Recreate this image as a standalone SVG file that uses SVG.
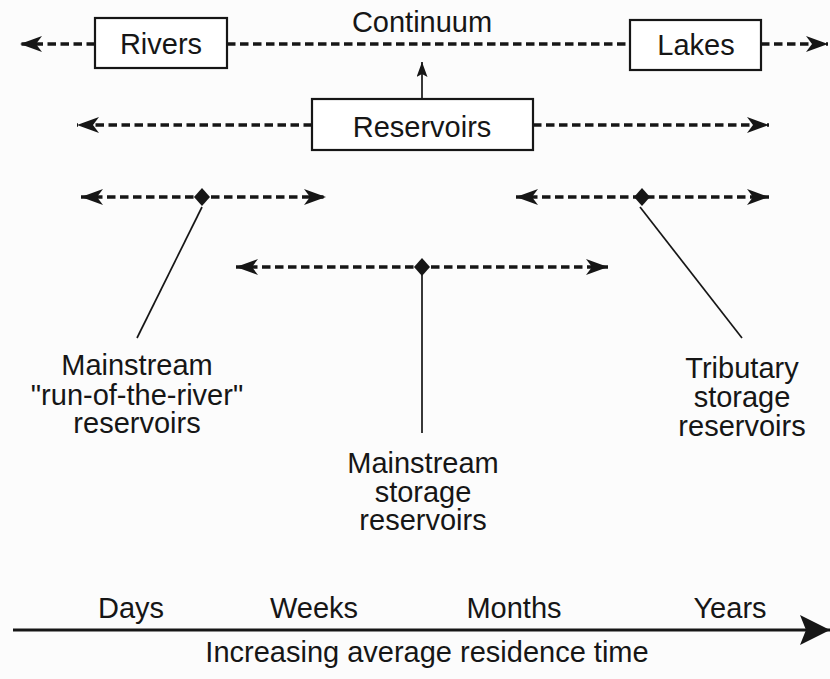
<svg xmlns="http://www.w3.org/2000/svg" xmlns:xlink="http://www.w3.org/1999/xlink" width="830" height="679" viewBox="0 0 830 679">
  <style>
    .txt { font-family: "Liberation Sans", Arial, Helvetica, sans-serif; font-size: 29px; fill: #161616; text-anchor: middle; }
    .box { fill: #ffffff; stroke: #161616; stroke-width: 2.2; }
    .dash { fill: none; stroke: #161616; stroke-width: 3.4; stroke-dasharray: 8.5 4.5; }
    .solid { fill: none; stroke: #161616; stroke-width: 1.7; }
    .axis { fill: none; stroke: #161616; stroke-width: 3.2; }
  </style>
  <defs>
    <marker id="arr" markerUnits="userSpaceOnUse" viewBox="0 0 22 16" markerWidth="22" markerHeight="16" refX="22" refY="8" orient="auto-start-reverse">
      <path d="M0,0 L22,8 L0,16 L6,8 z" fill="#161616"/>
    </marker>
    <marker id="arrSmall" markerUnits="userSpaceOnUse" viewBox="0 0 15 11" markerWidth="15" markerHeight="11" refX="15" refY="5.5" orient="auto">
      <path d="M0,0 L15,5.5 L0,11 L3,5.5 z" fill="#161616"/>
    </marker>
    <marker id="arrBig" markerUnits="userSpaceOnUse" viewBox="0 0 30 30" markerWidth="30" markerHeight="30" refX="30" refY="15" orient="auto">
      <path d="M0,0 L30,15 L0,30 L6,15 z" fill="#161616"/>
    </marker>
    <path id="dia" d="M0,-9 L8,0 L0,9 L-8,0 z" fill="#161616"/>
  </defs>
  <rect x="0" y="0" width="830" height="679" fill="#fcfcfc"/>

  <g id="connectors">
    <line class="dash" x1="95" y1="44" x2="20" y2="44" marker-end="url(#arr)"/>
    <line class="dash" x1="227" y1="44" x2="630" y2="44"/>
    <line class="dash" x1="761" y1="44" x2="828" y2="44" marker-end="url(#arr)"/>
    <line class="solid" x1="422" y1="99" x2="422" y2="62" marker-end="url(#arrSmall)"/>
    <line class="dash" x1="312" y1="125" x2="77" y2="125" marker-end="url(#arr)"/>
    <line class="dash" x1="533" y1="125" x2="769" y2="125" marker-end="url(#arr)"/>
    <line class="dash" x1="81" y1="197" x2="326" y2="197" marker-start="url(#arr)" marker-end="url(#arr)"/>
    <use xlink:href="#dia" x="202" y="197"/>
    <line class="solid" x1="202" y1="207" x2="137" y2="338"/>
    <line class="dash" x1="516" y1="197" x2="769" y2="197" marker-start="url(#arr)" marker-end="url(#arr)"/>
    <use xlink:href="#dia" x="642" y="197"/>
    <line class="solid" x1="640" y1="207" x2="742" y2="338"/>
    <line class="dash" x1="236" y1="267" x2="608" y2="267" marker-start="url(#arr)" marker-end="url(#arr)"/>
    <use xlink:href="#dia" x="422" y="267"/>
    <line class="solid" x1="422" y1="275" x2="422" y2="433"/>
    <line class="axis" x1="13" y1="630" x2="830" y2="630" marker-end="url(#arrBig)"/>
  </g>

  <g id="continuum-label">
    <text class="txt" x="422" y="32">Continuum</text>
  </g>
  <g id="rivers">
    <rect class="box" x="95" y="18" width="132" height="50"/>
    <text class="txt" x="161" y="54">Rivers</text>
  </g>
  <g id="lakes">
    <rect class="box" x="630" y="20" width="131" height="50"/>
    <text class="txt" x="696" y="55">Lakes</text>
  </g>
  <g id="reservoirs">
    <rect class="box" x="312" y="99" width="221" height="51"/>
    <text class="txt" x="422" y="137">Reservoirs</text>
  </g>
  <g id="run-of-river">
    <text class="txt" x="137" y="375">Mainstream</text>
    <text class="txt" x="137" y="405">"run-of-the-river"</text>
    <text class="txt" x="137" y="433">reservoirs</text>
  </g>
  <g id="tributary">
    <text class="txt" x="742" y="378">Tributary</text>
    <text class="txt" x="742" y="407">storage</text>
    <text class="txt" x="742" y="436">reservoirs</text>
  </g>
  <g id="mainstream-storage">
    <text class="txt" x="423" y="473">Mainstream</text>
    <text class="txt" x="423" y="502">storage</text>
    <text class="txt" x="423" y="530">reservoirs</text>
  </g>
  <g id="time-axis-labels">
    <text class="txt" x="131" y="618">Days</text>
    <text class="txt" x="314" y="618">Weeks</text>
    <text class="txt" x="514" y="618">Months</text>
    <text class="txt" x="730" y="618">Years</text>
    <text class="txt" x="427" y="662">Increasing average residence time</text>
  </g>
</svg>
